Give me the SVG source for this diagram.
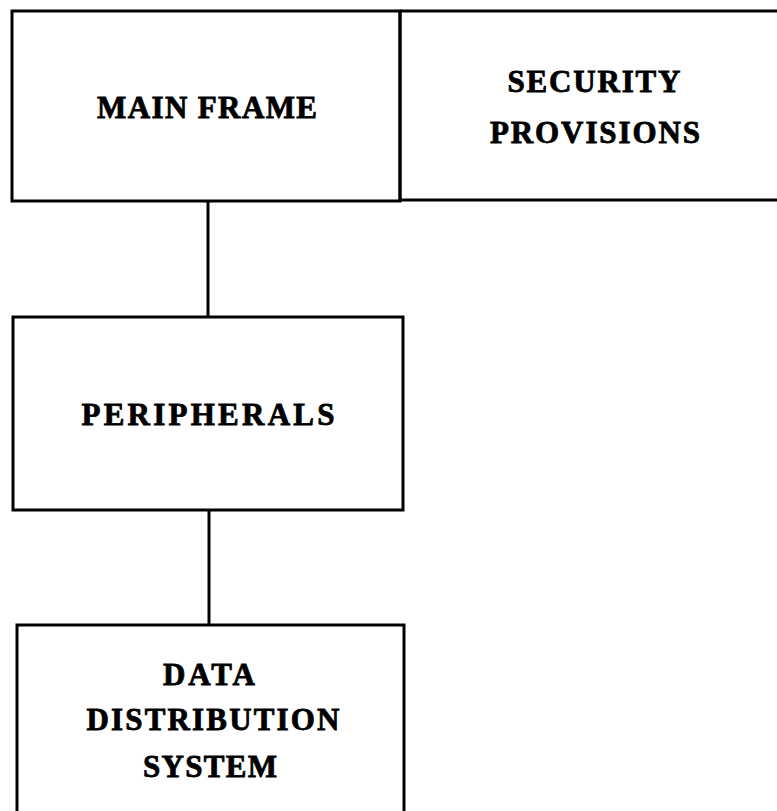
<svg xmlns="http://www.w3.org/2000/svg" width="777" height="811" viewBox="0 0 777 811">
<style>
.box{fill:none;stroke:#000;stroke-width:3}
.conn{stroke:#000;stroke-width:3;fill:none}
.lbl{font-family:"Liberation Serif","DejaVu Serif",serif;font-weight:bold;font-size:31px;fill:#000;stroke:#000;stroke-width:0.8;text-anchor:middle}
</style>
<rect x="0" y="0" width="777" height="811" fill="#fff"/>
<g id="connectors">
<line class="conn" x1="208" y1="201" x2="208" y2="317"/>
<line class="conn" x1="209" y1="510" x2="209" y2="625"/>
</g>
<g id="main-frame">
<rect class="box" x="12" y="11" width="388" height="190"/>
<text class="lbl" x="207" y="118" textLength="220" lengthAdjust="spacing">MAIN FRAME</text>
</g>
<g id="security-provisions">
<path class="box" d="M400 11 H790 M400 200 H790 M400 11 V200"/>
<text class="lbl" x="594" y="92" textLength="173" lengthAdjust="spacing">SECURITY</text>
<text class="lbl" x="595" y="143" textLength="210" lengthAdjust="spacing">PROVISIONS</text>
</g>
<g id="peripherals">
<rect class="box" x="13" y="317" width="390" height="193"/>
<text class="lbl" x="208" y="425" textLength="253" lengthAdjust="spacing">PERIPHERALS</text>
</g>
<g id="data-distribution-system">
<path class="box" d="M17 830 V625 H404 V830"/>
<text class="lbl" x="209" y="685" textLength="92" lengthAdjust="spacing">DATA</text>
<text class="lbl" x="213" y="730" textLength="253" lengthAdjust="spacing">DISTRIBUTION</text>
<text class="lbl" x="210" y="777" textLength="134" lengthAdjust="spacing">SYSTEM</text>
</g>
</svg>
